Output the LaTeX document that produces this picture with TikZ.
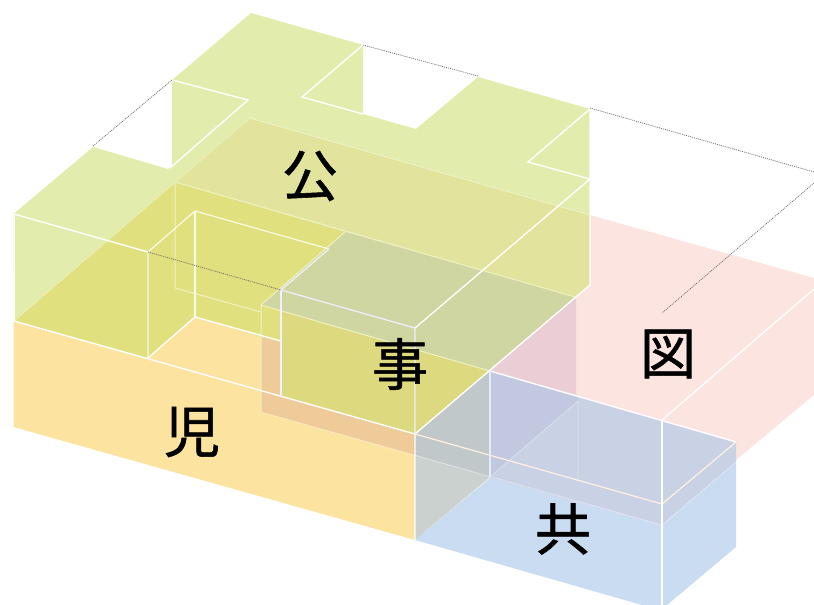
\documentclass[tikz,border=0pt]{standalone}
\usepackage{fontspec}
\newfontfamily\cjk[FakeBold=1]{Noto Sans CJK JP}
\definecolor{cGreen}{HTML}{E2ECAD}
\definecolor{cOrange}{HTML}{FDE3A0}
\definecolor{cPink}{HTML}{FCE4E1}
\definecolor{cBlue}{HTML}{C9DCF2}
\definecolor{cYellow}{HTML}{E1E07F}
\definecolor{cBand}{HTML}{E2E39D}
\definecolor{cSageTop}{HTML}{D0D6A2}
\definecolor{cSageFront}{HTML}{DCD97F}
\definecolor{cTan}{HTML}{EECB98}
\definecolor{cMauve}{HTML}{EBCDD5}
\definecolor{cBlueBand}{HTML}{C9D1E5}
\definecolor{cLilac}{HTML}{C1C8E0}
\definecolor{cGreyA}{HTML}{C1C8C9}
\definecolor{cGreyB}{HTML}{CBD1CE}
\definecolor{cFaint}{HTML}{EEF2C0}
\tikzset{
  face/.style={draw=none},
  wline/.style={draw=white,line width=1.35pt},
  cream/.style={draw=#1,line width=1.2pt},
  faint/.style={draw=cFaint,line width=1pt},
  dots/.style={draw=black!60,line width=0.7pt,dash pattern=on 1pt off 1pt},
  kanji/.style={font=\cjk\fontsize{56}{56}\selectfont,text=black,inner sep=0pt}
}
\begin{document}
\begin{tikzpicture}[x=1pt,y=-1pt]
\useasboundingbox (0,0) rectangle (814,605);
% base volumes
\fill[face,cGreen] (251,13)--(363,45)--(363,114)--(416,129)--(478,77)--(590,109)--(590,285)--(575,297)--(345,232)--(175,182)--(14,321)--(13.5,214)--(93,147)--(168,169)--(172,165)--(172,80)--cycle;
\fill[face,cPink] (590,215)--(814,278)--(814,395)--(736,460)--(736,442)--(490,371)--(575,297)--(590,285)--cycle;
\fill[face,cOrange] (13.5,321)--(148,358)--(195,317)--(261,337)--(281,342)--(281,397)--(415,434)--(415,540)--(13.5,427)--cycle;
\fill[face,cBlue] (415,540)--(490,478)--(662,525)--(736,462)--(736,547)--(667,605)--(642,605)--cycle;
% overlaps
\fill[face,cYellow] (14,321)--(175,182)--(345,232)--(261,305)--(261,337)--(195,317)--(148,358)--cycle;
\fill[face,cBand] (250,118)--(590,215)--(590,285)--(575,297)--(345,232)--(175,182)--cycle;
\fill[face,cSageTop] (345,232)--(575,297)--(490,371)--(261,305)--cycle;
\fill[face,cYellow] (261,305)--(281,311)--(281,342)--(261,337)--cycle;
\fill[face,cSageFront] (281,311)--(490,371)--(415,434)--(281,397)--cycle;
\fill[face,cTan] (261,337)--(281,342)--(281,397)--(415,434)--(415,455)--(261,412)--cycle;
\fill[face,cMauve] (576,297)--(576,395)--(490,371)--cycle;
\fill[face,cBlueBand] (490,371)--(736,442)--(736,462)--(662,525)--(490,478)--cycle;
\fill[face,cLilac] (490,371)--(578,396)--(578,401)--(490,477)--cycle;
\fill[face,cGreyA] (415,434)--(490,371)--(490,477)--(415,455)--cycle;
\fill[face,cGreyB] (415,455)--(490,477)--(415,540)--cycle;
% faint edges of the translucent volumes
\draw[draw=cFaint,line width=0.6pt] (14,321)--(250,118);
\draw[faint] (250,118)--(590,215);
\draw[faint] (175,182)--(575,297);
\draw[faint] (175,182)--(175,288)--(261,312);
\draw[faint] (261,305)--(490,371);
\draw[faint] (345,232)--(261,305)--(261,412);
\draw[draw=white,opacity=.35,line width=0.9pt] (261,412)--(662,525)--(736,462);
\draw[draw=white,opacity=.35,line width=0.9pt] (490,477)--(578,401)--(578,480);
% white edges
\draw[draw=white,line width=0.7pt] (14,214)--(14,321);
\draw[wline] (14,214)--(148,252);
\draw[cream=cFaint!40!white] (148,358)--(148,252)--(195,211)--(329,249);
\draw[cream=cFaint!40!white] (195,211)--(195,317);
\draw[wline] (148,358)--(195,317)--(281,341);
\draw[wline] (14,321)--(415,434)--(415,540);
\draw[wline] (172,80)--(248,100)--(170,168);
\draw[wline] (363,45)--(302,97)--(363,114);
\draw[wline] (590,109)--(528,162)--(590,179)--(415,328);
\draw[wline] (590,109)--(590,285)--(415,434);
\draw[cream=blue!6!white] (329,249)--(281,290)--(415,328)--(415,434);
\draw[cream=blue!6!white] (281,290)--(281,397);
\draw[wline] (490,371)--(736,442);
\draw[cream=orange!12!white] (415,434)--(662,504)--(736,442);
\draw[cream=cBlue!55!white] (490,371)--(490,477);
\draw[wline] (662,420)--(662,605);
\draw[wline] (662,420)--(814,289);
% dotted construction lines
\draw[dots] (363,45)--(478,76);
\draw[dots] (172,80)--(93,146);
\draw[dots] (590,108)--(814,172);
\draw[dots] (814,183)--(662,313);
\draw[dots] (148,252)--(281,290);
% labels
\node[kanji] (ko) at (310,176) {公};
\node[kanji] (ji) at (400,364) {事};
\node[kanji] (ni) at (192,432) {児};
\node[kanji] (to) at (668,354) {図};
\node[kanji] (ky) at (563,529) {共};
\end{tikzpicture}
\end{document}
